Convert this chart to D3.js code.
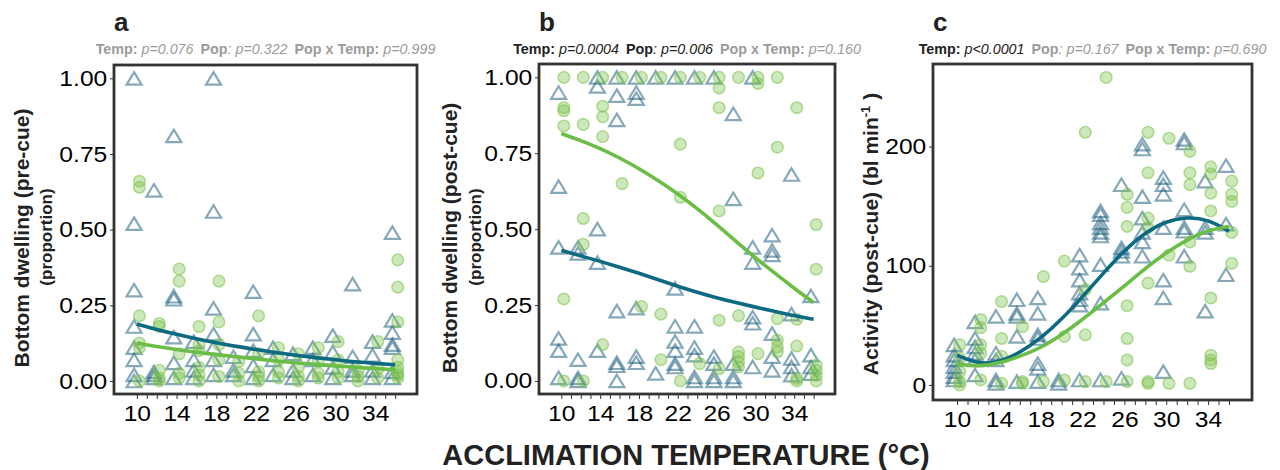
<!DOCTYPE html>
<html>
<head>
<meta charset="utf-8">
<script src="https://cdn.jsdelivr.net/npm/d3@7"></script>
<style>
  body { margin: 0; background: #fff; }
  svg { font-family: "Liberation Sans", Arial, sans-serif; }
</style>
</head>
<body>
<svg id="chart" width="1280" height="470"></svg>
<script>
// acclimation temperatures (°C) and axis labels
var temps = [10, 12, 14, 16, 18, 20, 22, 24, 26, 28, 30, 32, 34, 36];
var xLabels = [10, 14, 18, 22, 26, 30, 34];
var propTicks = [0, 0.25, 0.5, 0.75, 1];
var actTicks = [0, 100, 200];

// panel a: bottom dwelling pre-cue, one list per temperature
var aTri = [
  [1.00, 0.52, 0.30, 0.18, 0.11, 0.07, 0.02, 0.00],
  [0.63, 0.03, 0.02, 0.01],
  [0.81, 0.28, 0.27, 0.145, 0.06, 0.01],
  [0.13, 0.07, 0.035, 0.01],
  [1.00, 0.56, 0.24, 0.155, 0.11, 0.07, 0.02],
  [0.08, 0.035, 0.02],
  [0.295, 0.155, 0.10, 0.05, 0.01],
  [0.11, 0.07, 0.02],
  [0.09, 0.035, 0.01],
  [0.11, 0.07, 0.02],
  [0.15, 0.095, 0.045, 0.01],
  [0.32, 0.08, 0.035, 0.02],
  [0.13, 0.085, 0.035, 0.01],
  [0.49, 0.20, 0.16, 0.12, 0.11, 0.03, 0.01]
];
var aCirc = [
  [0.66, 0.64, 0.215, 0.125, 0.11, 0.00],
  [0.19, 0.18, 0.035, 0.01, 0.00],
  [0.37, 0.33, 0.09, 0.025, 0.01],
  [0.18, 0.12, 0.10, 0.045, 0.02, 0.00],
  [0.33, 0.195, 0.12, 0.07, 0.015],
  [0.065, 0.025, 0.00],
  [0.215, 0.09, 0.03, 0.015, 0.00],
  [0.11, 0.07, 0.03, 0.01],
  [0.09, 0.045, 0.015, 0.00],
  [0.11, 0.065, 0.025, 0.01],
  [0.13, 0.07, 0.03, 0.01],
  [0.035, 0.015, 0.00],
  [0.13, 0.04, 0.01],
  [0.40, 0.31, 0.195, 0.07, 0.045, 0.03, 0.02, 0.01]
];
var aTriFit = [0.188, 0.170, 0.154, 0.139, 0.126, 0.114, 0.104, 0.094, 0.085, 0.077, 0.070, 0.063, 0.058, 0.054];
var aCircFit = [0.125, 0.114, 0.104, 0.095, 0.087, 0.080, 0.073, 0.066, 0.060, 0.055, 0.050, 0.045, 0.041, 0.037];

// panel b: bottom dwelling post-cue
var bTri = [
  [0.95, 0.64, 0.44, 0.14, 0.10, 0.01],
  [0.44, 0.42, 0.07, 0.01, 0.00],
  [1.00, 0.97, 0.50, 0.39, 0.10],
  [1.00, 0.94, 0.86, 0.23, 0.06, 0.05, 0.00],
  [1.00, 0.95, 0.93, 0.24, 0.08, 0.06],
  [1.00, 0.025],
  [1.00, 0.305, 0.18, 0.13, 0.10, 0.057, 0.046],
  [1.00, 0.18, 0.11, 0.085, 0.013, 0.00],
  [1.00, 0.08, 0.057, 0.013, 0.00],
  [0.88, 0.60, 0.057, 0.013, 0.00],
  [1.00, 0.44, 0.39, 0.21, 0.19, 0.046],
  [0.48, 0.43, 0.415, 0.156, 0.08, 0.035],
  [0.68, 0.22, 0.074, 0.046, 0.019],
  [0.28, 0.085, 0.046, 0.024]
];
var bCirc = [
  [1.00, 0.90, 0.89, 0.84, 0.27, 0.00],
  [1.00, 0.845, 0.535, 0.45, 0.00],
  [1.00, 0.905, 0.87, 0.805, 0.12],
  [1.00, 0.65],
  [1.00, 0.245],
  [1.00, 0.22, 0.07],
  [1.00, 0.78, 0.605, 0.00],
  [1.00, 0.057],
  [1.00, 0.965, 0.90, 0.56, 0.20, 0.04],
  [1.00, 0.215, 0.095, 0.08, 0.063, 0.046],
  [1.00, 0.98, 0.685, 0.09],
  [1.00, 0.77, 0.205, 0.134, 0.112, 0.096],
  [0.90, 0.203, 0.115, 0.008, 0.00],
  [0.515, 0.368, 0.052, 0.035, 0.019, 0.00]
];
var bTriFit = [0.430, 0.412, 0.394, 0.375, 0.355, 0.333, 0.312, 0.292, 0.274, 0.258, 0.243, 0.229, 0.215, 0.203];
var bCircFit = [0.815, 0.792, 0.766, 0.735, 0.700, 0.660, 0.617, 0.568, 0.515, 0.460, 0.405, 0.355, 0.305, 0.258];

// panel c: activity post-cue (bl min-1)
var cTri = [
  [33.7, 25, 21, 15.4, 11.2, 7, 4.2],
  [53, 39, 32, 26.6, 21, 8.4],
  [57.5, 26.6, 21, 4.2, 1.4],
  [71.5, 60, 57.5, 40.7, 2.8],
  [73, 60, 42, 39, 18, 14, 2.8],
  [4.2, 1.4],
  [109, 98, 88, 77, 71.5, 67, 4.2],
  [146, 143, 136, 132, 128, 125, 101, 68.7, 4.2],
  [168, 115, 112, 108, 5.6],
  [202, 198, 158, 140, 128, 120, 108],
  [174, 168, 160, 132, 88, 73, 11.2],
  [206, 203, 147, 132, 129, 108],
  [171, 132, 128, 62],
  [184, 135, 92.5]
];
var cCirc = [
  [33.7, 22.4, 11.2, 2.8, 0],
  [55, 48, 33.7, 26.6, 4.2],
  [70, 39, 24, 1.4],
  [49, 2.8, 1.4],
  [91, 2.8],
  [104, 40.7, 4.2],
  [212, 80, 42, 2.8],
  [258, 2.8],
  [160, 149, 133, 66.5, 39, 21, 2.8],
  [212, 178, 140, 132, 85.5, 2.8, 1.4],
  [207, 109, 1.4],
  [196, 178, 168, 120, 99.6, 1.4],
  [183, 177, 161, 146, 73, 25, 21, 18],
  [171, 160, 154, 128, 102]
];
var cTriFit = [25, 17.5, 19, 27, 39, 55, 74, 94, 113, 128, 137.5, 141, 139, 129];
var cCircFit = [17.5, 15.5, 18, 24, 31, 42, 55, 69, 83, 98, 111, 122, 130, 133];

var grey = "#9b9b9b", dark = "#222";
var triColor = "#175a7a", circColor = "#7cc34a";
var triLine = "#0e6a82", circLine = "#6abd45";

var panels = [
  { letter: "a", box: [114, 65, 417, 394], yDomain: [-0.043, 1.044], yTicks: propTicks, fmt: d3.format(".2f"),
    tri: aTri, circ: aCirc, triFit: aTriFit, circFit: aCircFit,
    stats: [["Temp:", " p=0.076", false], ["Pop", ": p=0.322", false], ["Pop x Temp:", " p=0.999", false]],
    ylab: "Bottom dwelling (pre-cue)", labX: 29, propX: 52, labY: 238 },
  { letter: "b", box: [539, 64, 835, 394], yDomain: [-0.043, 1.044], yTicks: propTicks, fmt: d3.format(".2f"),
    tri: bTri, circ: bCirc, triFit: bTriFit, circFit: bCircFit,
    stats: [["Temp:", " p=0.0004", true], ["Pop", ": p=0.006", true], ["Pop x Temp:", " p=0.160", false]],
    ylab: "Bottom dwelling (post-cue)", labX: 457, propX: 481, labY: 238 },
  { letter: "c", box: [933, 64, 1252, 400], yDomain: [-12.6, 269.3], yTicks: actTicks, fmt: d3.format("d"),
    tri: cTri, circ: cCirc, triFit: cTriFit, circFit: cCircFit,
    stats: [["Temp:", " p<0.0001", true], ["Pop", ": p=0.167", false], ["Pop x Temp:", " p=0.690", false]],
    ylab: null, labX: 878, labY: 234 }
];

var svg = d3.select("#chart");

function triPath(w, h) {
  return "M0," + (-h / 2) + "L" + (w / 2) + "," + (h / 2) + "L" + (-w / 2) + "," + (h / 2) + "Z";
}

function flatten(groups, shift) {
  var out = [];
  groups.forEach(function(vals, i) {
    vals.forEach(function(v) { out.push({ t: temps[i] + shift, v: v }); });
  });
  return out;
}

panels.forEach(function(p, pi) {
  var x0 = p.box[0], y0 = p.box[1], x1 = p.box[2], y1 = p.box[3];
  var cx = (x0 + x1) / 2;

  var x = d3.scaleLinear().domain([7.7, 38.2]).range([x0, x1]);
  var y = d3.scaleLinear().domain(p.yDomain).range([y1, y0]);

  var g = svg.append("g");

  svg.append("clipPath").attr("id", "clip" + pi)
    .append("rect").attr("x", x0).attr("y", y0).attr("width", x1 - x0).attr("height", y1 - y0);

  var plot = g.append("g").attr("clip-path", "url(#clip" + pi + ")");

  // triangles (population 1)
  plot.selectAll("path.tri")
      .data(flatten(p.tri, -0.28))
    .enter().append("path")
      .attr("class", "tri")
      .attr("d", triPath(15, 12.5))
      .attr("transform", function(d) { return "translate(" + x(d.t) + "," + y(d.v) + ")"; })
      .attr("fill", "none")
      .attr("stroke", triColor)
      .attr("stroke-opacity", 0.52)
      .attr("stroke-width", 2.2);

  // circles (population 2)
  plot.selectAll("circle")
      .data(flatten(p.circ, 0.26))
    .enter().append("circle")
      .attr("cx", function(d) { return x(d.t); })
      .attr("cy", function(d) { return y(d.v); })
      .attr("r", 5.8)
      .attr("fill", circColor)
      .attr("fill-opacity", 0.38)
      .attr("stroke", circColor)
      .attr("stroke-opacity", 0.55)
      .attr("stroke-width", 1.5);

  var line = d3.line()
      .x(function(d, i) { return x(temps[i]); })
      .y(function(d) { return y(d); })
      .curve(d3.curveBasis);

  plot.append("path").attr("d", line(p.triFit))
      .attr("fill", "none").attr("stroke", triLine).attr("stroke-width", 3.6);
  plot.append("path").attr("d", line(p.circFit))
      .attr("fill", "none").attr("stroke", circLine).attr("stroke-width", 3.6);

  // axes
  var xAxis = g.append("g")
      .attr("transform", "translate(0," + y1 + ")")
      .call(d3.axisBottom(x)
        .tickValues(d3.range(10, 37, 1))
        .tickSize(5)
        .tickPadding(6)
        .tickFormat(function(d) { return xLabels.indexOf(d) >= 0 ? d : ""; }));

  var yAxis = g.append("g")
      .attr("transform", "translate(" + x0 + ",0)")
      .call(d3.axisLeft(y).tickValues(p.yTicks).tickSize(4).tickPadding(2).tickFormat(p.fmt));

  [xAxis, yAxis].forEach(function(ax) {
    ax.select(".domain").remove();
    ax.selectAll(".tick line").attr("stroke", "#333");
    ax.selectAll(".tick text")
      .attr("fill", "#000")
      .style("font-size", "22px")
      .attr("transform", "scale(1.12,1)");
  });

  // panel border
  g.append("rect")
      .attr("x", x0).attr("y", y0)
      .attr("width", x1 - x0).attr("height", y1 - y0)
      .attr("fill", "none").attr("stroke", "#333").attr("stroke-width", 2.8);

  // panel letter
  g.append("text")
      .attr("x", x0).attr("y", 31)
      .style("font-size", "26px").style("font-weight", "bold")
      .attr("fill", "#222")
      .text(p.letter);

  // statistics line
  var st = g.append("text")
      .attr("x", cx).attr("y", 54)
      .attr("text-anchor", "middle")
      .style("font-size", "14.3px");
  p.stats.forEach(function(s, i) {
    var col = s[2] ? dark : grey;
    st.append("tspan").attr("dx", i ? 7 : 0).style("font-weight", "bold").attr("fill", col).text(s[0]);
    st.append("tspan").style("font-style", "italic").attr("fill", col).text(s[1]);
  });

  // y-axis title
  if (p.ylab) {
    g.append("text")
        .attr("transform", "translate(" + p.labX + "," + p.labY + ") rotate(-90)")
        .attr("text-anchor", "middle")
        .style("font-size", "21px").style("font-weight", "bold")
        .attr("fill", "#222")
        .text(p.ylab);
    g.append("text")
        .attr("transform", "translate(" + p.propX + "," + (p.labY - 1) + ") rotate(-90)")
        .attr("text-anchor", "middle")
        .style("font-size", "17px").style("font-weight", "bold")
        .attr("fill", "#222")
        .text("(proportion)");
  } else {
    var t = g.append("text")
        .attr("transform", "translate(" + p.labX + "," + p.labY + ") rotate(-90)")
        .attr("text-anchor", "middle")
        .style("font-size", "21px").style("font-weight", "bold")
        .attr("fill", "#222");
    t.append("tspan").text("Activity (post-cue) (bl min");
    t.append("tspan").attr("dy", -8).style("font-size", "13px").text("-1");
    t.append("tspan").attr("dy", 8).text(" )");
  }
});

// shared x-axis title
svg.append("text")
    .attr("x", 686).attr("y", 465)
    .attr("text-anchor", "middle")
    .style("font-size", "29px").style("font-weight", "bold")
    .attr("fill", "#222")
    .text("ACCLIMATION TEMPERATURE (°C)");
</script>
</body>
</html>
